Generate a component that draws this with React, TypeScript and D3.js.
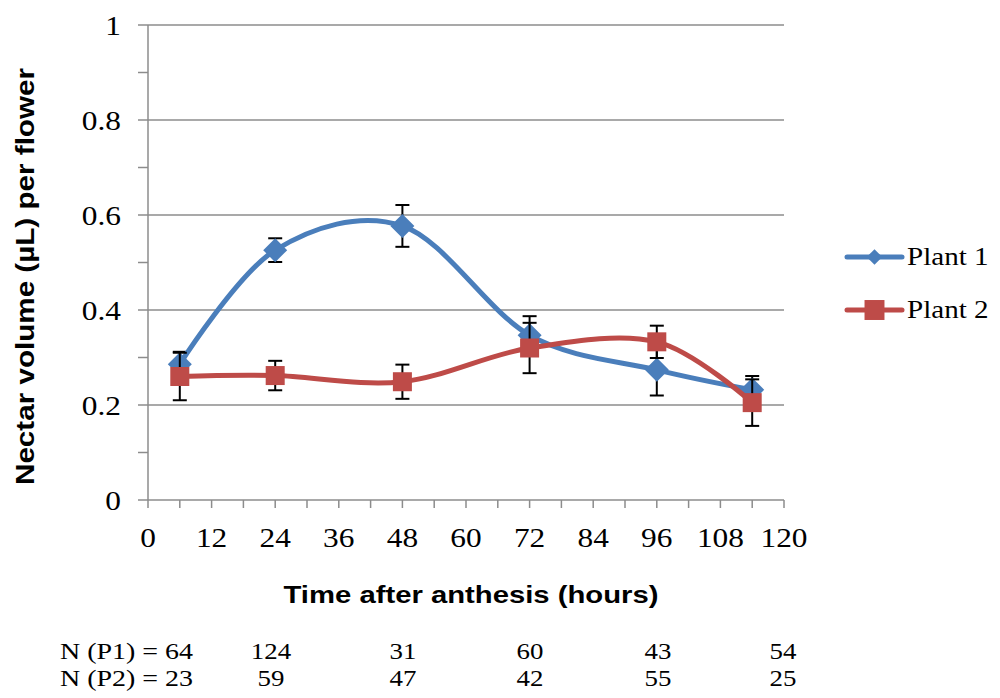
import React from "react";
import * as d3 from "d3";

const hours = [6, 24, 48, 72, 96, 114];
const plant1 = [0.286, 0.526, 0.577, 0.347, 0.274, 0.232];
const plant1Err = [0.026, 0.025, 0.044, 0.04, 0.054, 0.029];
const plant2 = [0.26, 0.262, 0.249, 0.32, 0.333, 0.205];
const plant2Err = [0.05, 0.031, 0.036, 0.053, 0.034, 0.049];
const seriesNames = ["Plant 1", "Plant 2"];
const xTicks = [0, 12, 24, 36, 48, 60, 72, 84, 96, 108, 120];
const yTicks = [0, 0.2, 0.4, 0.6, 0.8, 1];
const nP1 = ["64", "124", "31", "60", "43", "54"];
const nP2 = ["23", "59", "47", "42", "55", "25"];
const nPos = [0, 271, 403, 530, 658, 783];

const W = 1000;
const H = 698;
const X0 = 148;
const X1 = 784;
const Y0 = 500;
const Y1 = 25;
const BLUE = "#4A7EBB";
const RED = "#BE4B48";
const GRID = "#8C8C8C";
const SERIF = "'Liberation Serif', 'Times New Roman', serif";
const SANS = "'Liberation Sans', Arial, sans-serif";
const SX = 1.12; // horizontal stretch of the reference text

export default function App() {
  const x = d3.scaleLinear().domain([0, 120]).range([X0, X1]);
  const y = d3.scaleLinear().domain([0, 1]).range([Y0, Y1]);
  const line = d3
    .line<number>()
    .x((_, i) => x(hours[i]))
    .y((d) => y(d))
    .curve(d3.curveCatmullRom.alpha(0));
  const minorX = d3.range(0, 121, 6);
  const minorY = d3.range(0, 11).map((v) => v / 10);
  const series = [
    { name: seriesNames[0], vals: plant1, err: plant1Err, color: BLUE, marker: "diamond" },
    { name: seriesNames[1], vals: plant2, err: plant2Err, color: RED, marker: "square" },
  ];
  const marker = (kind: string, cx: number, cy: number, color: string, key: string, s = 1) =>
    kind === "diamond" ? (
      <path
        key={key}
        d={`M${cx},${cy - 12 * s}L${cx + 12 * s},${cy}L${cx},${cy + 12 * s}L${cx - 12 * s},${cy}Z`}
        fill={color}
      />
    ) : (
      <rect key={key} x={cx - 9.5 * s} y={cy - 9.5 * s} width={19 * s} height={19 * s} fill={color} />
    );
  // text stretched horizontally around anchor point
  const sText = (
    key: string,
    tx: number,
    ty: number,
    content: string,
    size: number,
    anchor: string,
    family = SERIF,
    weight = "normal"
  ) => (
    <text
      key={key}
      transform={`translate(${tx},${ty}) scale(${SX},1)`}
      textAnchor={anchor}
      fontFamily={family}
      fontWeight={weight}
      fontSize={size}
      fill="#000"
    >
      {content}
    </text>
  );

  return (
    <div style={{ position: "absolute", left: 0, top: 0 }}>
      <svg width={W} height={H} style={{ display: "block", background: "#fff" }}>
        {/* gridlines */}
        {yTicks.slice(1).map((t) => (
          <line key={"g" + t} x1={X0} x2={X1} y1={y(t)} y2={y(t)} stroke={GRID} strokeWidth={1.5} />
        ))}
        {/* axes */}
        <line x1={X0} x2={X0} y1={Y1} y2={Y0} stroke={GRID} strokeWidth={1.5} />
        <line x1={X0} x2={X1} y1={Y0} y2={Y0} stroke={GRID} strokeWidth={1.5} />
        {minorY.map((t) => (
          <line key={"ty" + t} x1={X0 - 10} x2={X0} y1={y(t)} y2={y(t)} stroke={GRID} strokeWidth={1.5} />
        ))}
        {minorX.map((t) => (
          <line key={"tx" + t} x1={x(t)} x2={x(t)} y1={Y0} y2={Y0 + 8} stroke={GRID} strokeWidth={1.5} />
        ))}
        {yTicks.map((t) => sText("ly" + t, 121, y(t) + 10, d3.format("~g")(t), 28, "end"))}
        {xTicks.map((t) => sText("lx" + t, x(t), 547, String(t), 28, "middle"))}
        {/* series */}
        {series.map((s) => (
          <g key={s.name}>
            {s.vals.map((v, i) => (
              <g key={"e" + i} stroke="#000" strokeWidth={2}>
                <line x1={x(hours[i])} x2={x(hours[i])} y1={y(v - s.err[i])} y2={y(v + s.err[i])} />
                <line x1={x(hours[i]) - 7} x2={x(hours[i]) + 7} y1={y(v - s.err[i])} y2={y(v - s.err[i])} />
                <line x1={x(hours[i]) - 7} x2={x(hours[i]) + 7} y1={y(v + s.err[i])} y2={y(v + s.err[i])} />
              </g>
            ))}
            <path d={line(s.vals) || ""} fill="none" stroke={s.color} strokeWidth={5} strokeLinecap="round" />
            {s.vals.map((v, i) => marker(s.marker, x(hours[i]), y(v), s.color, "m" + i))}
          </g>
        ))}
        {/* legend */}
        {series.map((s, i) => (
          <g key={"leg" + i} transform={`translate(0, ${257 + i * 53})`}>
            <line x1={847} x2={902} y1={0} y2={0} stroke={s.color} strokeWidth={5} strokeLinecap="round" />
            {marker(s.marker, 874.5, 0, s.color, "lm", s.marker === "diamond" ? 0.65 : 1.05)}
            {sText("lt", 907, 8, s.name, 26, "start")}
          </g>
        ))}
        {/* axis titles */}
        <text
          x={471}
          y={603}
          textAnchor="middle"
          fontFamily={SANS}
          fontWeight="bold"
          fontSize={24}
          textLength={375}
          lengthAdjust="spacingAndGlyphs"
          fill="#000"
        >
          Time after anthesis (hours)
        </text>
        <text
          transform={`translate(34, 276.5) rotate(-90)`}
          textAnchor="middle"
          fontFamily={SANS}
          fontWeight="bold"
          fontSize={26}
          textLength={417}
          lengthAdjust="spacingAndGlyphs"
          fill="#000"
        >
          Nectar volume (µL) per flower
        </text>
        {/* sample sizes */}
        {[nP1, nP2].map((row, r) => (
          <g key={"n" + r}>
            <text
              x={60}
              y={659 + r * 27}
              fontFamily={SERIF}
              fontSize={24}
              textLength={133}
              lengthAdjust="spacingAndGlyphs"
              fill="#000"
            >
              {`N (P${r + 1}) = ${row[0]}`}
            </text>
            {row.slice(1).map((v, i) => sText("nv" + i, nPos[i + 1], 659 + r * 27, v, 24, "middle"))}
          </g>
        ))}
      </svg>
    </div>
  );
}
